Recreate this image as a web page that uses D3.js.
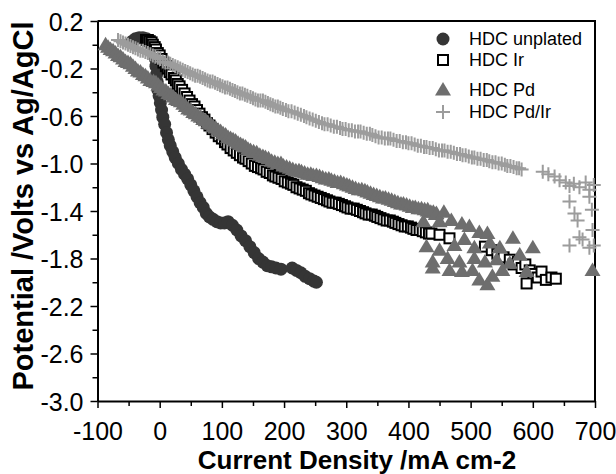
<!DOCTYPE html>
<html lang="en">
<head>
<meta charset="UTF-8">
<title>Potential vs current density</title>
<script src="https://d3js.org/d3.v7.min.js"></script>
<style>
  body { margin: 0; background: #fff; }
  svg { font-family: "Liberation Sans", Arial, Helvetica, sans-serif; }
  .axis path, .axis line { stroke: #000; }
  .axis text { font-size: 25px; fill: #000; }
  .title { font-weight: bold; fill: #000; }
  .legend text { font-size: 18px; fill: #000; }
</style>
</head>
<body>
<svg id="chart"></svg>
<script>
// ---- data: [current density mA/cm2, potential V] ----
var unplated = [
  [-44,0.03],[-39,0.05],[-33,0.06],[-27,0.06],[-21,0.05],[-16,0.03],[-12,-0.01],[-9,-0.06],
  [-7,-0.12],[-6,-0.18],[-5,-0.25],[-4,-0.31],[-3,-0.38],[-1,-0.43],[1,-0.49],[3,-0.55],
  [5,-0.61],[8,-0.67],[11,-0.74],[14,-0.80],[17,-0.85],[21,-0.90],[25,-0.95],[30,-1.00],
  [35,-1.05],[40,-1.09],[45,-1.13],[50,-1.18],[55,-1.23],[60,-1.28],[65,-1.33],[70,-1.37],
  [75,-1.42],[80,-1.45],[86,-1.47],[92,-1.49],[98,-1.50],[104,-1.50],[110,-1.49],[117,-1.52],
  [124,-1.56],[131,-1.61],[138,-1.65],[145,-1.70],[152,-1.75],[159,-1.80],[166,-1.83],[173,-1.86],
  [180,-1.87],[187,-1.88],[195,-1.89],[213,-1.88],[220,-1.90],[227,-1.92],[234,-1.95],[241,-1.97],
  [248,-1.99],[252,-2.00]
];
var ir = [
  [-22,0.04],[-19,0.04],[-16,0.03],[-13,0.02],[-11,0.00],[-8,-0.02],[-6,-0.04],[-3,-0.07],
  [0,-0.09],[3,-0.12],[6,-0.15],[10,-0.18],[13,-0.20],[16,-0.23],[19,-0.25],[23,-0.28],
  [26,-0.30],[29,-0.33],[32,-0.35],[36,-0.38],[40,-0.41],[44,-0.44],[48,-0.47],[52,-0.50],
  [56,-0.52],[60,-0.55],[64,-0.58],[68,-0.61],[72,-0.63],[76,-0.66],[80,-0.68],[85,-0.71],
  [90,-0.74],[95,-0.77],[100,-0.79],[105,-0.82],[109,-0.84],[114,-0.87],[119,-0.89],[124,-0.91],
  [129,-0.93],[134,-0.95],[138,-0.96],[143,-0.98],[148,-1.00],[153,-1.02],[158,-1.03],[163,-1.04],
  [167,-1.05],[172,-1.07],[177,-1.08],[182,-1.10],[186,-1.11],[191,-1.12],[196,-1.13],[201,-1.15],
  [206,-1.16],[211,-1.17],[215,-1.18],[220,-1.20],[225,-1.21],[230,-1.22],[235,-1.23],[240,-1.25],
  [244,-1.26],[249,-1.27],[254,-1.28],[259,-1.29],[264,-1.30],[269,-1.31],[273,-1.32],[278,-1.33],
  [283,-1.33],[288,-1.34],[293,-1.35],[298,-1.36],[302,-1.37],[307,-1.38],[312,-1.38],[317,-1.39],
  [322,-1.40],[327,-1.41],[331,-1.42],[336,-1.43],[341,-1.43],[346,-1.44],[350,-1.45],[355,-1.46],
  [360,-1.47],[365,-1.48],[370,-1.48],[375,-1.49],[379,-1.50],[384,-1.51],[389,-1.52],[394,-1.53],
  [399,-1.53],[404,-1.54],[408,-1.55],[413,-1.56],[418,-1.56],[423,-1.57],[428,-1.58],[433,-1.59],
  [437,-1.59],[450,-1.60],[466,-1.63],[523,-1.70],[534,-1.73],[543,-1.76],[553,-1.79],[563,-1.81],
  [569,-1.85],[576,-1.83],[582,-1.88],[588,-1.85],[595,-1.90],[601,-1.93],[608,-1.96],[590,-2.01],
  [614,-1.91],[621,-1.98],[630,-1.96],[637,-1.97]
];
var pd = [
  [-87,0.00],[-83,-0.02],[-79,-0.04],[-75,-0.05],[-71,-0.07],[-67,-0.09],[-63,-0.10],[-59,-0.12],
  [-55,-0.14],[-51,-0.15],[-47,-0.16],[-43,-0.18],[-39,-0.20],[-35,-0.22],[-31,-0.23],[-27,-0.25],
  [-23,-0.26],[-19,-0.28],[-15,-0.30],[-10,-0.31],[-6,-0.32],[-2,-0.34],[2,-0.36],[6,-0.38],
  [10,-0.39],[14,-0.41],[18,-0.42],[22,-0.44],[26,-0.46],[30,-0.47],[34,-0.48],[38,-0.50],
  [42,-0.52],[46,-0.54],[50,-0.55],[54,-0.57],[58,-0.58],[62,-0.60],[66,-0.61],[70,-0.63],
  [74,-0.64],[78,-0.66],[82,-0.67],[86,-0.69],[90,-0.70],[94,-0.72],[98,-0.73],[102,-0.75],
  [106,-0.76],[110,-0.78],[114,-0.79],[118,-0.80],[122,-0.81],[126,-0.83],[130,-0.84],[134,-0.85],
  [138,-0.86],[142,-0.88],[146,-0.89],[151,-0.90],[156,-0.91],[161,-0.93],[166,-0.94],[170,-0.95],
  [175,-0.96],[180,-0.98],[185,-0.99],[190,-1.00],[195,-1.00],[199,-1.02],[204,-1.03],[209,-1.04],
  [214,-1.05],[219,-1.06],[224,-1.06],[228,-1.07],[233,-1.08],[238,-1.09],[243,-1.09],[247,-1.10],
  [252,-1.10],[257,-1.11],[262,-1.12],[267,-1.13],[272,-1.13],[276,-1.14],[281,-1.15],[286,-1.16],
  [291,-1.16],[296,-1.17],[301,-1.18],[305,-1.19],[310,-1.20],[315,-1.21],[320,-1.22],[325,-1.22],
  [330,-1.23],[334,-1.24],[339,-1.25],[344,-1.26],[349,-1.27],[354,-1.28],[359,-1.29],[363,-1.29],
  [368,-1.30],[373,-1.31],[378,-1.32],[383,-1.33],[388,-1.34],[392,-1.34],[397,-1.35],[402,-1.36],
  [407,-1.37],[411,-1.37],[416,-1.38],[421,-1.38],[426,-1.39],[431,-1.40],[436,-1.41],[440,-1.41],
  [445,-1.42],
  [431,-1.39],[444,-1.43],[457,-1.41],[424,-1.49],[450,-1.49],[469,-1.48],[486,-1.51],[498,-1.53],
  [514,-1.58],[527,-1.59],[429,-1.70],[450,-1.73],[474,-1.69],[490,-1.64],[506,-1.71],[531,-1.67],
  [547,-1.71],[439,-1.83],[463,-1.80],[482,-1.83],[523,-1.83],[542,-1.81],[563,-1.84],[506,-1.80],
  [439,-1.88],[466,-1.90],[486,-1.91],[503,-1.90],[514,-1.98],[527,-2.02],[535,-1.95],[551,-1.90],
  [568,-1.63],[600,-1.71],[590,-1.91],[696,-1.90],[579,-1.77]
];
var pdIr = [
  [-67,0.04],[-63,0.03],[-59,0.02],[-55,0.01],[-51,0.00],[-47,-0.01],[-43,-0.02],[-39,-0.03],
  [-35,-0.04],[-31,-0.05],[-27,-0.05],[-23,-0.06],[-19,-0.07],[-15,-0.08],[-11,-0.09],[-7,-0.10],
  [-3,-0.11],[1,-0.12],[5,-0.14],[9,-0.15],[13,-0.15],[17,-0.16],[21,-0.17],[25,-0.18],
  [29,-0.19],[33,-0.20],[37,-0.21],[41,-0.22],[45,-0.23],[49,-0.24],[53,-0.25],[57,-0.26],
  [61,-0.26],[65,-0.27],[69,-0.28],[73,-0.29],[77,-0.30],[81,-0.31],[85,-0.31],[89,-0.32],
  [93,-0.33],[97,-0.34],[101,-0.35],[105,-0.36],[109,-0.36],[113,-0.37],[117,-0.38],[121,-0.39],
  [125,-0.40],[129,-0.41],[133,-0.41],[137,-0.42],[141,-0.43],[146,-0.44],[150,-0.45],[154,-0.46],
  [158,-0.47],[162,-0.47],[166,-0.47],[170,-0.48],[174,-0.49],[178,-0.50],[182,-0.51],[186,-0.52],
  [190,-0.52],[194,-0.53],[198,-0.54],[203,-0.55],[207,-0.56],[212,-0.56],[217,-0.57],[222,-0.58],
  [227,-0.59],[232,-0.60],[236,-0.61],[241,-0.62],[246,-0.63],[251,-0.64],[256,-0.65],[261,-0.66],
  [265,-0.67],[270,-0.67],[275,-0.68],[280,-0.69],[285,-0.69],[290,-0.70],[294,-0.71],[299,-0.71],
  [304,-0.72],[309,-0.72],[314,-0.73],[319,-0.73],[323,-0.73],[328,-0.74],[333,-0.75],[338,-0.75],
  [342,-0.76],[347,-0.77],[352,-0.78],[357,-0.78],[362,-0.79],[367,-0.79],[371,-0.79],[376,-0.80],
  [381,-0.81],[386,-0.81],[391,-0.82],[396,-0.82],[400,-0.83],[405,-0.83],[410,-0.84],[415,-0.85],
  [420,-0.85],[425,-0.86],[429,-0.86],[434,-0.87],[439,-0.87],[444,-0.88],[449,-0.89],[454,-0.89],
  [458,-0.89],[463,-0.90],[468,-0.90],[473,-0.91],[478,-0.92],[483,-0.92],[487,-0.93],[492,-0.93],
  [497,-0.94],[502,-0.95],[506,-0.95],[511,-0.96],[516,-0.96],[521,-0.97],[526,-0.97],[530,-0.98],
  [535,-0.99],[540,-0.99],[545,-1.00],[550,-1.00],[555,-1.01],[559,-1.02],[564,-1.02],[569,-1.03],
  [574,-1.04],[578,-1.04],[582,-1.05],
  [616,-1.07],[625,-1.09],[635,-1.11],[643,-1.14],[653,-1.16],[659,-1.19],[666,-1.17],[675,-1.20],
  [685,-1.16],[691,-1.22],[698,-1.18],
  [659,-1.32],[672,-1.48],[691,-1.28],[695,-1.39],[696,-1.56],[659,-1.69],[680,-1.64],[691,-1.71],
  [675,-1.62],[667,-1.42],[698,-1.69]
];

var xMajor = [-100, 0, 100, 200, 300, 400, 500, 600, 700];
var xMinor = [-50, 50, 150, 250, 350, 450, 550, 650];
var yMajor = [0.2, -0.2, -0.6, -1.0, -1.4, -1.8, -2.2, -2.6, -3.0];
var yMinor = [0.0, -0.4, -0.8, -1.2, -1.6, -2.0, -2.4, -2.8];
var seriesNames = ["HDC unplated", "HDC Ir", "HDC Pd", "HDC Pd/Ir"];

var width = 616, height = 474;
var margin = {left: 97.5, top: 21, right: 21, bottom: 73};

var svg = d3.select('#chart').attr('width', width).attr('height', height);

var x = d3.scaleLinear().domain([-100, 700]).range([margin.left, width - margin.right]);
var y = d3.scaleLinear().domain([-3.0, 0.2]).range([height - margin.bottom, margin.top]);

// frame (top + right)
svg.append('path')
  .attr('d', 'M' + x(-100) + ',' + y(0.2) + 'H' + x(700) + 'V' + y(-3.0))
  .attr('fill', 'none').attr('stroke', '#000').attr('stroke-width', 2);

// axes
var fmtY = function(d) { return d3.format('.1f')(d).replace('\u2212', '-'); };
var fmtX = function(d) { return String(d).replace('\u2212', '-'); };

svg.append('g').attr('class', 'axis')
  .attr('transform', 'translate(0,' + y(-3.0) + ')')
  .call(d3.axisBottom(x).tickValues(xMajor).tickFormat(fmtX).tickSize(7).tickPadding(14).tickSizeOuter(0));
svg.append('g').attr('class', 'axis')
  .attr('transform', 'translate(0,' + y(-3.0) + ')')
  .call(d3.axisBottom(x).tickValues(xMinor).tickFormat('').tickSize(5).tickSizeOuter(0))
  .select('.domain').remove();

var yAxis = svg.append('g').attr('class', 'axis')
  .attr('transform', 'translate(' + x(-100) + ',0)')
  .call(d3.axisLeft(y).tickValues(yMajor).tickFormat(fmtY).tickSize(7).tickPadding(7).tickSizeOuter(0));
yAxis.selectAll('text').attr('dy', '9px');
svg.append('g').attr('class', 'axis')
  .attr('transform', 'translate(' + x(-100) + ',0)')
  .call(d3.axisLeft(y).tickValues(yMinor).tickFormat('').tickSize(5).tickSizeOuter(0))
  .select('.domain').remove();

svg.selectAll('.axis .domain').attr('stroke-width', 2);
svg.selectAll('.axis .tick line').attr('stroke-width', 1.5);

// titles
svg.append('text').attr('class', 'title')
  .attr('x', 357).attr('y', 469)
  .attr('text-anchor', 'middle').style('font-size', '26px')
  .text('Current Density /mA cm-2');
svg.append('text').attr('class', 'title')
  .attr('transform', 'translate(33,206) rotate(-90)')
  .attr('text-anchor', 'middle').style('font-size', '29px')
  .text('Potential /Volts vs Ag/AgCl');

// markers
var plot = svg.append('g');

var triPath = 'M0,-8L8,5.5L-8,5.5Z';
var plusPath = 'M-7,0H7M0,-7V7';

plot.append('g').selectAll('circle').data(unplated).enter().append('circle')
  .attr('cx', function(d) { return x(d[0]); })
  .attr('cy', function(d) { return y(d[1]); })
  .attr('r', 6.5)
  .attr('fill', '#353535');

plot.append('g').selectAll('rect').data(ir).enter().append('rect')
  .attr('x', function(d) { return x(d[0]) - 5; })
  .attr('y', function(d) { return y(d[1]) - 5; })
  .attr('width', 10).attr('height', 10)
  .attr('fill', '#fff').attr('stroke', '#000').attr('stroke-width', 2);

plot.append('g').selectAll('path').data(pd).enter().append('path')
  .attr('d', triPath)
  .attr('transform', function(d) { return 'translate(' + x(d[0]) + ',' + y(d[1]) + ')'; })
  .attr('fill', '#6e6e6e');

plot.append('g').selectAll('path').data(pdIr).enter().append('path')
  .attr('d', plusPath)
  .attr('transform', function(d) { return 'translate(' + x(d[0]) + ',' + y(d[1]) + ')'; })
  .attr('fill', 'none').attr('stroke', '#9c9c9c').attr('stroke-width', 2);

// legend
var legend = svg.append('g').attr('class', 'legend');
var legY = [39, 60, 90, 112];
var legX = 443;

legend.append('circle').attr('cx', legX).attr('cy', legY[0]).attr('r', 6.5).attr('fill', '#353535');
legend.append('rect').attr('x', legX - 5).attr('y', legY[1] - 5).attr('width', 10).attr('height', 10)
  .attr('fill', '#fff').attr('stroke', '#000').attr('stroke-width', 2);
legend.append('path').attr('d', triPath).attr('transform', 'translate(' + legX + ',' + legY[2] + ')')
  .attr('fill', '#6e6e6e');
legend.append('path').attr('d', plusPath).attr('transform', 'translate(' + legX + ',' + legY[3] + ')')
  .attr('fill', 'none').attr('stroke', '#9c9c9c').attr('stroke-width', 2);

legend.selectAll('text').data(seriesNames).enter().append('text')
  .attr('x', 469)
  .attr('y', function(d, i) { return legY[i] + 6; })
  .text(function(d) { return d; });
</script>
</body>
</html>
